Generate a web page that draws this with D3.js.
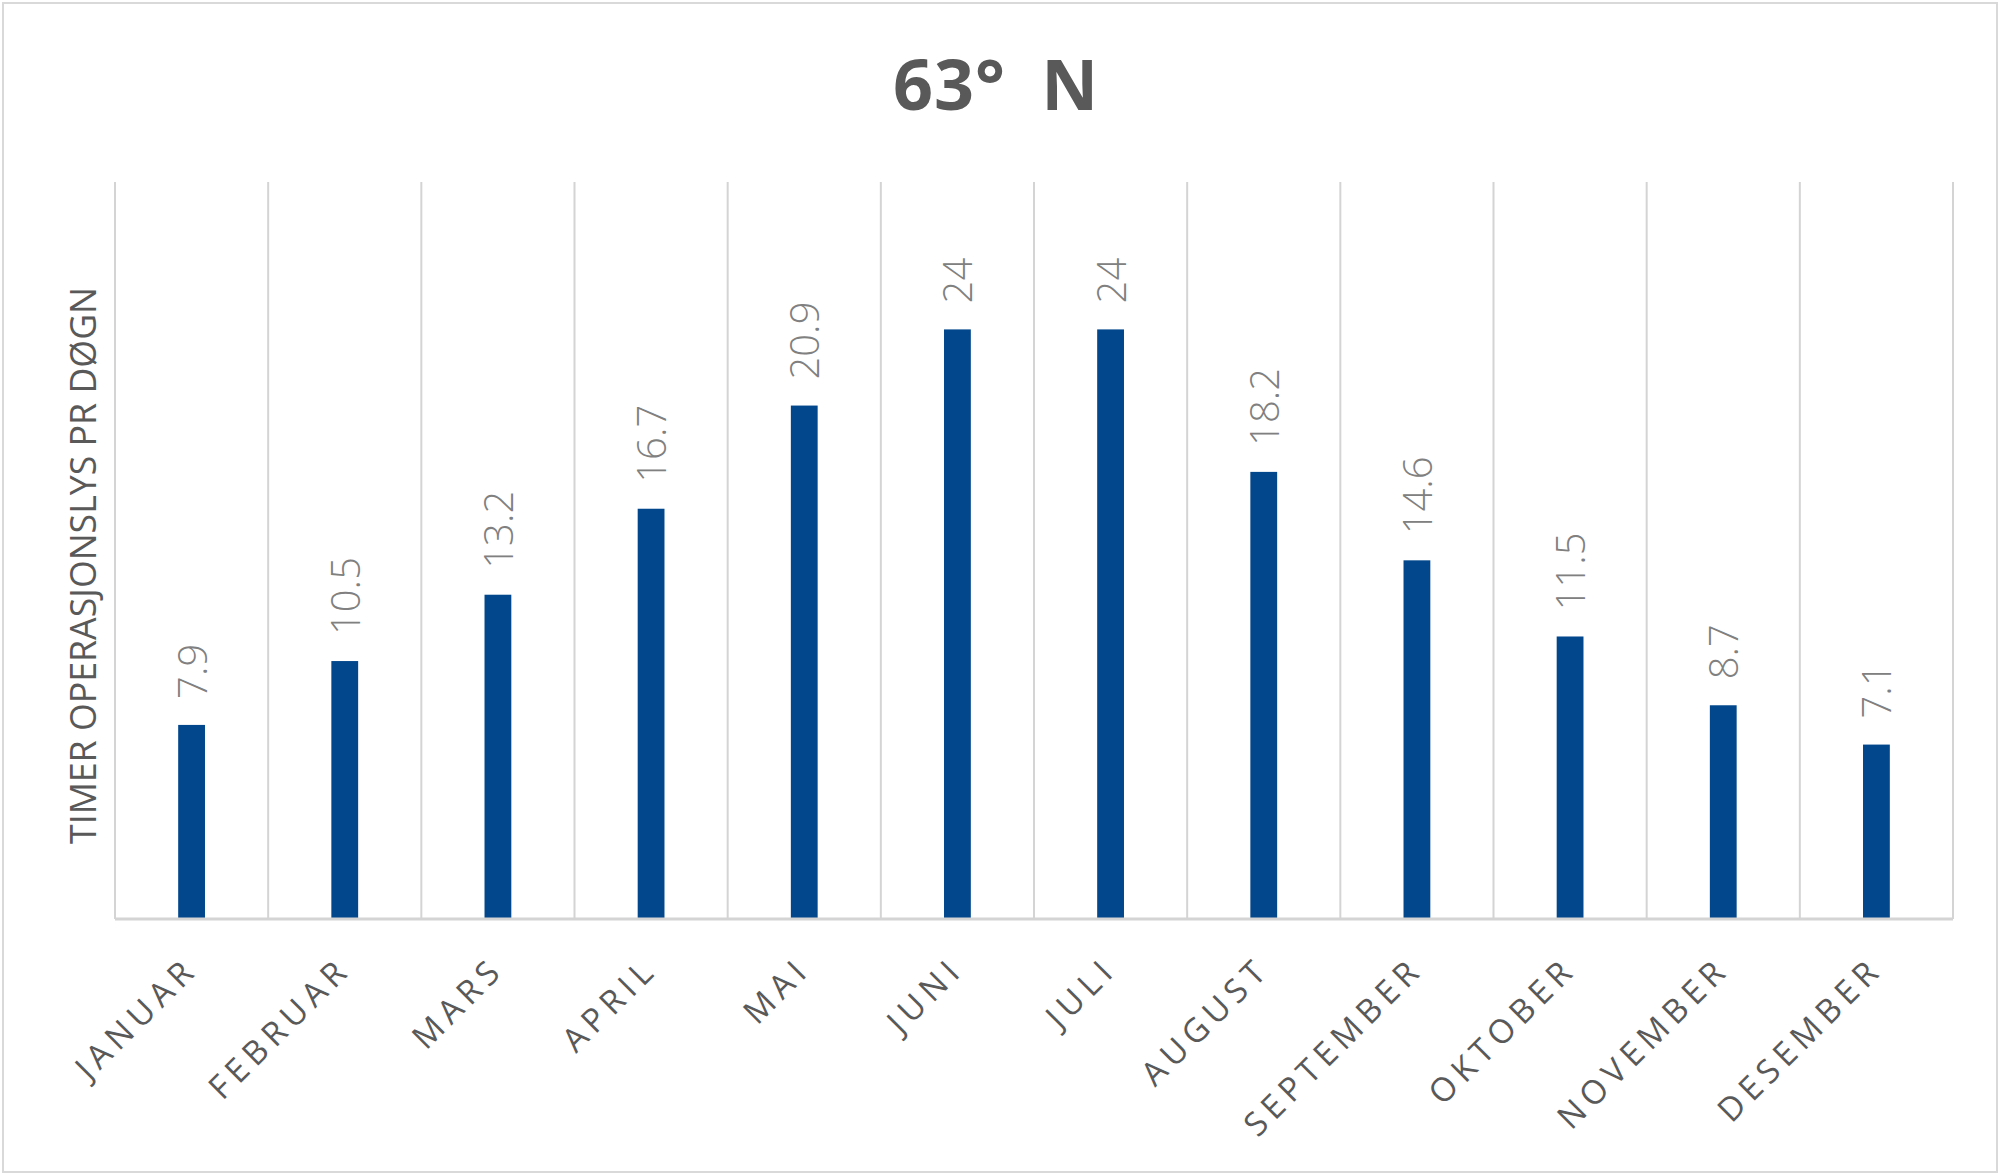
<!DOCTYPE html>
<html>
<head>
<meta charset="utf-8">
<script src="https://cdn.jsdelivr.net/npm/d3@7"></script>
<style>
  html, body { margin: 0; padding: 0; background: #ffffff; }
  svg { display: block; }
</style>
</head>
<body>
<svg id="chart" width="2000" height="1175"></svg>
<script>
const months = ["JANUAR","FEBRUAR","MARS","APRIL","MAI","JUNI","JULI","AUGUST","SEPTEMBER","OKTOBER","NOVEMBER","DESEMBER"];
const hours = [7.9, 10.5, 13.2, 16.7, 20.9, 24, 24, 18.2, 14.6, 11.5, 8.7, 7.1];
const chartTitle = "63° N";
const yTitle = "TIMER OPERASJONSLYS PR DØGN";
const yDomain = [0, 30];

const W = 2000, H = 1175;
const plot = { left: 115, right: 1953, top: 182, bottom: 919 };
const svg = d3.select("#chart");

// chart border
svg.append("rect")
  .attr("x", 3).attr("y", 3).attr("width", W - 6).attr("height", H - 6)
  .attr("fill", "#ffffff").attr("stroke", "#d9d9d9").attr("stroke-width", 2);

const x = d3.scaleBand().domain(months).range([plot.left, plot.right]).paddingInner(0).paddingOuter(0);
const y = d3.scaleLinear().domain(yDomain).range([plot.bottom, plot.top]);

// vertical gridlines at category boundaries
const bounds = months.map(m => x(m)).concat([x.range()[1]]);
svg.append("g").selectAll("line").data(bounds).join("line")
  .attr("x1", d => d).attr("x2", d => d)
  .attr("y1", y(yDomain[1])).attr("y2", y(0))
  .attr("stroke", "#d4d4d4").attr("stroke-width", 2);

// bars
const barW = x.bandwidth() * 0.175;
svg.append("g").selectAll("rect").data(hours).join("rect")
  .attr("x", (d, i) => x(months[i]) + x.bandwidth() / 2 - barW / 2)
  .attr("y", d => y(d))
  .attr("width", barW)
  .attr("height", d => y(0) - y(d))
  .attr("fill", "#02478c");

// x axis baseline
svg.append("line")
  .attr("x1", plot.left).attr("x2", plot.right)
  .attr("y1", y(0)).attr("y2", y(0))
  .attr("stroke", "#d4d4d4").attr("stroke-width", 3);

// data labels
svg.append("g").selectAll("text").data(hours).join("text")
  .attr("transform", (d, i) => `translate(${x(months[i]) + x.bandwidth() / 2 + 15},${y(d) - 26}) rotate(-90)`)
  .attr("text-anchor", "start")
  .attr("font-family", "'Open Sans', sans-serif")
  .attr("font-weight", 300)
  .attr("font-size", 40)
  .attr("fill", "#808080")
  .text(d => String(d));

// category labels
svg.append("g").selectAll("text").data(months).join("text")
  .attr("transform", d => `translate(${x(d) + x.bandwidth() / 2 + 8},${y(0) + 52}) rotate(-45)`)
  .attr("text-anchor", "end")
  .attr("font-family", "'Open Sans', sans-serif")
  .attr("font-size", 33)
  .attr("letter-spacing", 6)
  .attr("fill", "#595959")
  .text(d => d);

// y-axis title
svg.append("text")
  .attr("transform", `translate(96,${(plot.top + plot.bottom) / 2 + 15}) rotate(-90)`)
  .attr("text-anchor", "middle")
  .attr("font-family", "'Open Sans', sans-serif")
  .attr("font-size", 36)
  .attr("fill", "#595959")
  .attr("textLength", 557)
  .attr("lengthAdjust", "spacingAndGlyphs")
  .text(yTitle);

// chart title
svg.append("text")
  .attr("x", 996).attr("y", 110)
  .attr("text-anchor", "middle")
  .attr("font-family", "'Open Sans', sans-serif")
  .attr("font-weight", 700)
  .attr("font-size", 70)
  .attr("word-spacing", 16)
  .attr("letter-spacing", 1)
  .attr("fill", "#595959")
  .attr("xml:space", "preserve")
  .text(chartTitle);
</script>
</body>
</html>
